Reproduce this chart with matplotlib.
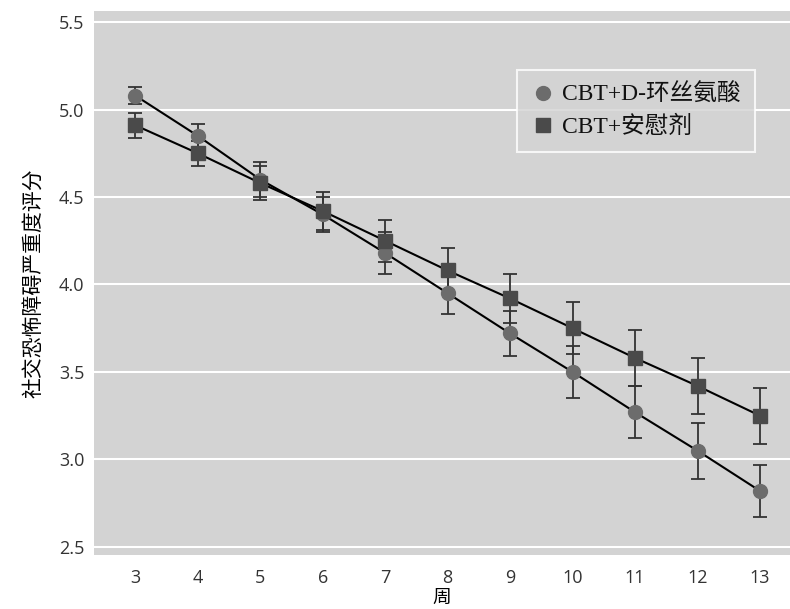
import matplotlib.pyplot as plt

plt.rcParams['font.family'] = ['Noto Sans CJK SC', 'DejaVu Sans']

weeks = [3, 4, 5, 6, 7, 8, 9, 10, 11, 12, 13]
dcs_mean = [5.08, 4.85, 4.60, 4.40, 4.18, 3.95, 3.72, 3.50, 3.27, 3.05, 2.82]
dcs_err = [0.05, 0.07, 0.10, 0.10, 0.12, 0.12, 0.13, 0.15, 0.15, 0.16, 0.15]
pbo_mean = [4.91, 4.75, 4.58, 4.42, 4.25, 4.08, 3.92, 3.75, 3.58, 3.42, 3.25]
pbo_err = [0.07, 0.07, 0.10, 0.11, 0.12, 0.13, 0.14, 0.15, 0.16, 0.16, 0.16]

serif_cjk = ['Liberation Serif', 'Noto Sans CJK SC']

fig = plt.figure(figsize=(7.9, 6.09), dpi=100)
ax = fig.add_axes([94 / 790, 1 - 555 / 609, 696 / 790, 544 / 609])
ax.set_facecolor('#d3d3d3')

ax.errorbar(weeks, dcs_mean, yerr=dcs_err, fmt='none', ecolor='#333333',
            elinewidth=1.3, capsize=5, capthick=1.3, zorder=2)
ax.errorbar(weeks, pbo_mean, yerr=pbo_err, fmt='none', ecolor='#333333',
            elinewidth=1.3, capsize=5, capthick=1.3, zorder=2)
ax.plot(weeks, dcs_mean, color='black', lw=1.5, zorder=3)
ax.plot(weeks, pbo_mean, color='black', lw=1.5, zorder=3)
ax.plot(weeks, dcs_mean, 'o', ms=10, color='#6c6c6c', mec='#6c6c6c',
        zorder=4, label='CBT+D-环丝氨酸')
ax.plot(weeks, pbo_mean, 's', ms=10.5, color='#4a4a4a', mec='#4a4a4a',
        zorder=4, label='CBT+安慰剂')

ax.set_xlim(2.34, 13.48)
ax.set_ylim(2.454, 5.563)
ax.set_xticks(weeks)
ax.set_yticks([2.5, 3.0, 3.5, 4.0, 4.5, 5.0, 5.5])
ax.yaxis.grid(True, color='white', lw=1.5)
ax.set_axisbelow(True)
for s in ax.spines.values():
    s.set_visible(False)
ax.tick_params(axis='y', length=0, labelsize=13, colors='#333333', pad=7)
ax.tick_params(axis='x', length=0, labelsize=13, colors='#333333', pad=10)
for lab in ax.get_xticklabels() + ax.get_yticklabels():
    lab.set_family(['Open Sans', 'DejaVu Sans'])

ax.set_xlabel('周', fontsize=13.5, labelpad=0)
ax.set_ylabel('社交恐怖障碍严重度评分', fontsize=15, labelpad=10)

leg = ax.legend(loc='upper left', bbox_to_anchor=(423 / 696, 1 - 59 / 544),
                prop={'family': serif_cjk, 'size': 17}, frameon=True,
                facecolor='#d3d3d3', edgecolor='white', fancybox=False,
                handletextpad=0.3, borderpad=0.6, labelspacing=0.4,
                handlelength=1.0, borderaxespad=0)
leg.get_frame().set_linewidth(1.5)
for t in leg.get_texts():
    t.set_color('#111111')

fig.savefig('out.png', dpi=100)
